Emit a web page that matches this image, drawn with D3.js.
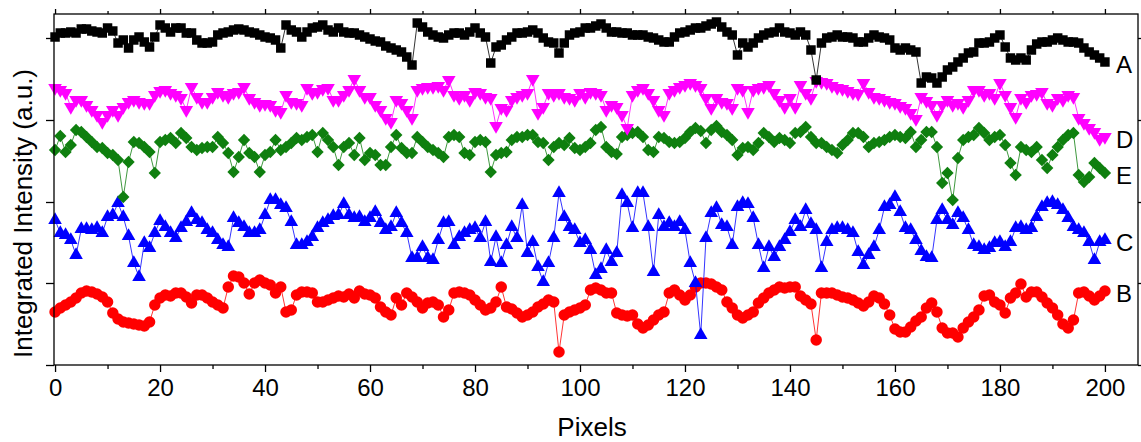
<!DOCTYPE html>
<html>
<head>
<meta charset="utf-8">
<script src="https://cdn.jsdelivr.net/npm/d3@7"></script>
<style>
  html, body { margin: 0; padding: 0; background: #fff; }
  svg text { font-family: "Liberation Sans", Arial, Helvetica, sans-serif; fill: #000; }
</style>
</head>
<body>
<svg id="chart" width="1141" height="442"></svg>
<script>
// Pixel index along the scanned line
const pixels = d3.range(0, 201);

// Integrated intensity per pixel (a.u., curves offset for clarity)
const seriesA = [
  328,332,332,333,332,336,336,334,333,332,337,334,322,325,317,325,328,323,318,328,340,
  337,333,337,337,332,332,325,322,322,323,330,332,333,335,336,335,333,332,330,328,327,
  325,317,340,335,333,328,333,337,338,340,335,333,337,333,332,332,330,328,326,324,323,
  319,317,315,313,308,300,342,338,333,330,328,327,330,332,332,330,333,337,332,328,302,
  318,320,325,328,332,332,333,335,332,327,323,322,312,322,330,332,333,337,337,339,341,
  337,333,333,332,332,330,330,330,328,327,325,323,323,328,332,333,335,337,337,339,341,
  343,338,333,330,310,322,318,322,327,330,332,333,337,333,332,330,333,330,315,285,322,
  327,328,330,328,328,327,323,323,327,330,328,327,325,317,315,317,315,313,282,288,287,
  282,288,295,298,303,307,312,313,322,322,323,327,330,318,307,305,307,305,315,321,323,
  323,325,327,325,323,323,322,317,313,310,307,303
];
const seriesD = [
  277,275,272,258,265,265,260,255,250,243,250,255,250,258,263,265,263,262,262,270,274,
  275,272,270,267,255,278,268,263,263,268,273,270,268,272,273,278,267,263,260,261,260,
  255,253,270,263,262,260,277,272,273,276,277,265,265,270,275,286,275,268,268,260,255,
  247,243,265,262,255,247,275,277,278,278,279,275,285,270,267,270,265,273,272,268,267,
  239,257,255,265,268,270,272,286,252,258,272,270,272,268,267,265,272,268,273,272,270,
  255,260,258,250,237,270,275,277,272,265,255,250,272,275,278,280,282,280,277,267,257,
  267,263,262,257,277,275,253,275,277,278,280,272,265,258,267,258,280,272,267,284,283,
  282,279,277,276,274,272,271,282,273,268,267,265,263,262,259,257,252,246,268,264,260,
  250,260,265,260,262,258,265,275,275,270,272,267,282,270,258,248,267,263,270,271,273,
  262,260,267,265,270,268,247,242,237,233,226,228
];
const seriesE = [
  215,229,213,220,235,233,228,223,218,217,212,210,205,168,203,223,222,218,213,192,223,
  225,227,222,232,227,218,215,217,218,218,228,222,212,193,208,225,212,208,193,210,213,
  225,215,218,222,227,225,228,230,213,232,225,218,200,218,222,210,227,205,212,210,200,
  200,218,230,217,212,212,228,223,218,215,212,208,228,230,228,212,210,223,225,223,193,
  210,212,213,225,228,228,230,230,223,222,205,218,222,220,227,217,215,218,222,235,238,
  218,213,211,228,230,232,233,228,215,213,228,227,223,222,223,227,233,237,234,222,235,
  239,233,230,225,210,217,218,215,222,232,228,223,227,225,222,232,233,238,228,222,222,
  218,215,212,220,225,232,232,228,218,222,223,225,228,230,228,227,233,218,225,233,233,
  218,182,192,165,207,225,228,230,237,232,225,228,230,220,202,190,218,215,213,218,205,
  197,210,218,225,230,232,190,183,188,202,197,192
];
const seriesC = [
  145,132,130,125,110,136,136,135,137,132,148,150,162,148,129,102,88,122,117,132,144,
  138,132,127,137,143,152,145,142,135,132,125,120,118,147,142,138,132,132,135,150,165,
  165,160,157,143,120,120,123,128,137,142,145,149,150,161,150,147,148,143,147,153,142,
  135,138,152,142,132,107,107,118,107,105,125,142,143,120,128,132,135,137,127,143,103,
  128,102,120,138,127,160,112,123,98,83,102,127,172,148,138,135,122,125,115,90,96,
  115,103,112,170,162,137,172,172,138,93,150,138,142,138,143,135,102,82,30,127,152,
  157,140,138,120,158,162,161,147,120,97,118,108,118,125,133,145,138,155,141,135,97,
  123,135,137,137,135,132,113,100,110,118,135,158,160,168,153,137,135,125,114,108,107,
  145,155,145,140,152,147,135,120,118,115,117,122,123,118,123,137,138,135,137,148,158,
  162,163,160,155,147,138,135,132,123,105,123,125
];
const seriesB = [
  53,57,60,63,67,72,74,73,71,68,63,52,46,43,42,41,40,39,43,60,67,
  70,69,72,72,68,62,70,70,67,63,60,57,78,89,88,82,71,82,85,82,80,
  72,78,53,55,70,73,73,72,63,63,65,67,69,68,71,67,74,71,70,67,58,
  53,50,67,60,72,68,63,57,62,63,60,48,55,72,73,72,70,65,60,55,57,
  63,78,58,56,52,48,50,53,58,61,65,63,13,50,53,55,57,60,75,77,75,
  72,72,52,50,49,50,41,37,40,45,50,53,72,75,70,65,70,78,82,82,81,
  78,75,63,57,50,47,50,53,62,67,72,75,78,77,78,78,69,65,61,25,72,
  72,72,70,68,67,65,62,59,63,69,67,61,50,36,33,33,38,44,48,57,62,
  53,37,32,32,28,37,43,48,55,69,70,63,60,52,67,72,81,68,73,73,68,
  62,57,50,41,37,45,72,73,69,65,69,74
];

const seriesNames = ["B", "C", "E", "D", "A"];
const xMajorTicks = [0, 20, 40, 60, 80, 100, 120, 140, 160, 180, 200];
const xMinorTicks = [10, 30, 50, 70, 90, 110, 130, 150, 170, 190];
const yTicks = [0, 82, 163, 245, 327];
const xTitle = "Pixels";
const yTitle = "Integrated Intensity (a.u.)";

// ---- layout ----
const frame = { left: 54, right: 1138, top: 14, bottom: 365 };
const x = d3.scaleLinear().domain([-0.2, 206.3]).range([frame.left, frame.right]);
const y = d3.scaleLinear().domain([0, 351]).range([frame.bottom, frame.top]);

const svg = d3.select("#chart");

const sym = {
  square:  { path: d3.symbol(d3.symbolSquare, 90)(),   rot: 0 },
  triDown: { path: d3.symbol(d3.symbolTriangle, 80)(), rot: 180 },
  diamond: { path: d3.symbol(d3.symbolSquare, 76)(),   rot: 45 },
  triUp:   { path: d3.symbol(d3.symbolTriangle, 80)(), rot: 0 },
  circle:  { path: d3.symbol(d3.symbolCircle, 104)(),  rot: 0 }
};

const styles = {
  A: { values: seriesA, color: "#000000", marker: "square" },
  D: { values: seriesD, color: "#ff00ff", marker: "triDown" },
  E: { values: seriesE, color: "#0f7f0f", marker: "diamond" },
  C: { values: seriesC, color: "#0000ff", marker: "triUp" },
  B: { values: seriesB, color: "#ff0000", marker: "circle" }
};

const plot = svg.append("g");
const line = d3.line().x((d, i) => x(pixels[i])).y(d => y(d));

seriesNames.forEach(name => {
  const s = styles[name];
  const g = plot.append("g").attr("class", "series-" + name);
  g.append("path")
    .datum(s.values)
    .attr("d", line)
    .attr("fill", "none")
    .attr("stroke", s.color)
    .attr("stroke-width", 0.8);
  const m = sym[s.marker];
  g.selectAll("path.pt")
    .data(s.values)
    .join("path")
    .attr("class", "pt")
    .attr("d", m.path)
    .attr("transform", (d, i) => `translate(${x(pixels[i])},${y(d)}) rotate(${m.rot})`)
    .attr("fill", s.color);
  // series letter to the right of the last point
  const last = s.values[s.values.length - 1];
  svg.append("text")
    .attr("x", x(pixels[pixels.length - 1]) + 11)
    .attr("y", y(last) + 3)
    .attr("dy", "0.35em")
    .attr("font-size", 24)
    .text(name);
});

// ---- axes ----
function styleAxis(g) {
  g.select(".domain").remove();
  g.selectAll("line").attr("stroke", "#000").attr("stroke-width", 1.3);
}

svg.append("g")
  .attr("transform", `translate(0,${frame.bottom})`)
  .call(d3.axisBottom(x).tickValues(xMajorTicks).tickSize(7).tickPadding(7).tickSizeOuter(0))
  .call(styleAxis)
  .call(g => g.selectAll("text").attr("font-size", 24).attr("fill", "#000")
    .style("font-family", '"Liberation Sans", Arial, sans-serif'));

svg.append("g")
  .attr("transform", `translate(0,${frame.bottom})`)
  .call(d3.axisBottom(x).tickValues(xMinorTicks).tickSize(4).tickFormat("").tickSizeOuter(0))
  .call(styleAxis);

svg.append("g")
  .attr("transform", `translate(0,${frame.top})`)
  .call(d3.axisTop(x).tickValues(xMajorTicks).tickSize(5).tickFormat("").tickSizeOuter(0))
  .call(styleAxis);

svg.append("g")
  .attr("transform", `translate(0,${frame.top})`)
  .call(d3.axisTop(x).tickValues(xMinorTicks).tickSize(3).tickFormat("").tickSizeOuter(0))
  .call(styleAxis);

svg.append("g")
  .attr("transform", `translate(${frame.left},0)`)
  .call(d3.axisLeft(y).tickValues(yTicks).tickSize(8).tickFormat("").tickSizeOuter(0))
  .call(styleAxis);

svg.append("g")
  .attr("transform", `translate(${frame.right},0)`)
  .call(d3.axisRight(y).tickValues(yTicks).tickSize(8).tickFormat("").tickSizeOuter(0))
  .call(styleAxis);

svg.append("rect")
  .attr("x", frame.left).attr("y", frame.top)
  .attr("width", frame.right - frame.left)
  .attr("height", frame.bottom - frame.top)
  .attr("fill", "none")
  .attr("stroke", "#000")
  .attr("stroke-width", 1.3);

// ---- titles ----
svg.append("text")
  .attr("x", (frame.left + frame.right) / 2 - 4)
  .attr("y", 436)
  .attr("text-anchor", "middle")
  .attr("font-size", 26)
  .text(xTitle);

svg.append("text")
  .attr("transform", `translate(32,${(frame.top + frame.bottom) / 2 + 24}) rotate(-90)`)
  .attr("text-anchor", "middle")
  .attr("font-size", 26)
  .text(yTitle);
</script>
</body>
</html>
